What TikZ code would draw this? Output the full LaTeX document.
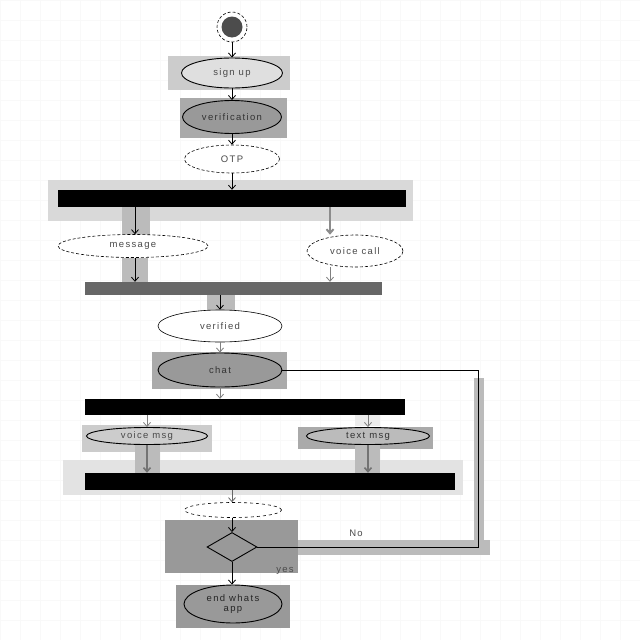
\documentclass[tikz,border=0pt]{standalone}
\usepackage{fontspec}
\setmainfont{Liberation Sans}
\newfontfamily\spacedfont[LetterSpace=14]{Liberation Sans}
\usetikzlibrary{shapes.geometric,arrows.meta}
\definecolor{txt}{HTML}{4A4A4A}
\definecolor{bgA}{HTML}{CCCCCC}
\definecolor{bgB}{HTML}{AAAAAA}
\definecolor{bgC}{HTML}{999999}
\definecolor{band}{HTML}{BBBBBB}
\tikzset{
  act/.style={ellipse, draw=black, line width=0.9pt, fill=white, inner sep=0pt,
    text=txt, font=\spacedfont\fontsize{9.5}{10.5}\selectfont, align=center},
  thinact/.style={act, line width=0.6pt},
  barbox/.style={rectangle, fill=black, inner sep=0pt},
  arr/.style={-{Straight Barb[length=4pt,width=7pt]}, line width=0.8pt, black},
  lbl/.style={text=txt, font=\spacedfont\fontsize{9.5}{10.5}\selectfont, inner sep=0pt}
}
\begin{document}
\begin{tikzpicture}[x=1pt,y=-1pt]
\useasboundingbox (0,0) rectangle (640,640);
\fill[white] (0,0) rectangle (640,640);
\draw[gray!5, line width=0.4pt] (0,0) grid[step=20pt] (640,640);

% background boxes
\fill[bgA] (168,56) rectangle (290,90);
\fill[bgB] (180,98) rectangle (287,138);
\fill[gray!30] (48,180) rectangle (413,221);
\fill[bgB] (152,352) rectangle (287,389);
\fill[bgA] (82,425) rectangle (212,452);
\fill[bgB] (298,427) rectangle (433,449);
\fill[gray!22] (63,460) rectangle (463,495);
% gray bands behind connectors
\fill[band] (122,207) rectangle (150,237);
\fill[band] (122,258) rectangle (148,283);
\fill[band] (207,295) rectangle (235,310);
\fill[gray!15] (355,410) rectangle (380,426);
\fill[band] (135,445) rectangle (160,473);
\fill[band] (355,445) rectangle (380,473);
\fill[band] (474,378) rectangle (484,555);
\fill[band] (255,540) rectangle (490,555);
\fill[bgC] (165,520) rectangle (298,573);
\fill[bgC] (176,585) rectangle (290,628);

% start
\node[circle, draw=black, densely dashed, line width=0.6pt, minimum size=30pt, inner sep=0pt] (startring) at (232,27) {};
\node[circle, fill=black!70, minimum size=21pt, inner sep=0pt] (start) at (232,27) {};

% activities
\node[act, fill=gray!25, minimum width=101pt, minimum height=30pt] (signup) at (232,73) {sign up};
\node[act, fill=bgC, text=black!80, minimum width=99pt, minimum height=33pt] (verif) at (232,117) {verification};
\node[thinact, densely dashed, minimum width=95pt, minimum height=28pt] (otp) at (232,159) {OTP};

\node[barbox, minimum width=348pt, minimum height=17pt] (fork1) at (232,198.5) {};
\node[thinact, densely dashed, minimum width=150pt, minimum height=23pt] (message) at (133,246) {message};
\node[thinact, densely dashed, minimum width=96pt, minimum height=32pt] (vcall) at (355,251) {voice call};
\node[barbox, fill=black!60, minimum width=297pt, minimum height=13pt] (join1) at (233.5,288.5) {};

\node[thinact, minimum width=124pt, minimum height=32pt] (verified) at (220,326) {verified};
\node[act, fill=bgC, text=black!80, minimum width=124pt, minimum height=34pt] (chat) at (220,370) {chat};

\node[barbox, minimum width=320pt, minimum height=16pt] (fork2) at (245,407) {};
\node[act, fill=bgA, minimum width=121pt, minimum height=17pt] (vmsg) at (147,436) {voice msg};
\node[act, fill=band, text=black!80, minimum width=123pt, minimum height=17pt] (tmsg) at (368,436) {text msg};
\node[barbox, minimum width=370pt, minimum height=17pt] (join2) at (270,481.5) {};

\node[act, line width=0.6pt, dash pattern=on 3pt off 3pt, minimum width=97pt, minimum height=15pt] (blank) at (233,510) {};
\node[diamond, draw=black, line width=0.9pt, fill=bgC, inner sep=0pt, minimum width=50pt, minimum height=29pt] (dec) at (232,547) {};
\node[act, fill=bgC, text=black!85, minimum width=98pt, minimum height=38pt] (endn) at (233,604) {end whats\\app};

% helper coordinates
\coordinate (xm) at (135,0);
\coordinate (xv) at (330,0);
\coordinate (xj) at (220,0);
\coordinate (xvm) at (147,0);
\coordinate (xtm) at (368,0);
\coordinate (xc) at (232,0);
\coordinate (loopA) at (478,370);
\coordinate (loopB) at (478,547);

% connectors
\draw[arr] (startring.south) -- (signup.north);
\draw[arr] (signup.south) -- (verif.north);
\draw[arr] (verif.south) -- (otp.north);
\draw[arr] (otp.south) -- (fork1.north);
\draw[arr] (fork1.south -| xm) -- (message.north -| xm);
\draw[arr, draw=black!45, line width=2pt] (fork1.south -| xv) -- (vcall.north -| xv);
\draw[arr] (message.south -| xm) -- (join1.north -| xm);
\draw[arr, draw=black!50] (vcall.south -| xv) -- (join1.north -| xv);
\draw[arr] (join1.south -| xj) -- (verified.north);
\draw[arr, draw=black!50] (verified.south) -- (chat.north);
\draw[arr, draw=black!50] (chat.south) -- (fork2.north -| xj);
\draw[arr, draw=black!50] (fork2.south -| xvm) -- (vmsg.north);
\draw[arr, draw=black!50] (fork2.south -| xtm) -- (tmsg.north);
\draw[arr, draw=black!55, line width=1.6pt] (vmsg.south) -- (join2.north -| xvm);
\draw[arr, draw=black!55, line width=1.6pt] (tmsg.south) -- (join2.north -| xtm);
\draw[arr, draw=black!60] (join2.south -| xc) -- (blank.north -| xc);
\draw[arr] (blank.south -| xc) -- (dec.north);
\draw[arr] (dec.south) -- (endn.north -| xc);
\draw[line width=0.8pt] (chat.east) -- (loopA) -- (loopB) -- (dec.east);

% labels
\node[lbl] (no) at (356,533) {No};
\node[lbl] (yes) at (285,571) {yes};
\end{tikzpicture}
\end{document}
